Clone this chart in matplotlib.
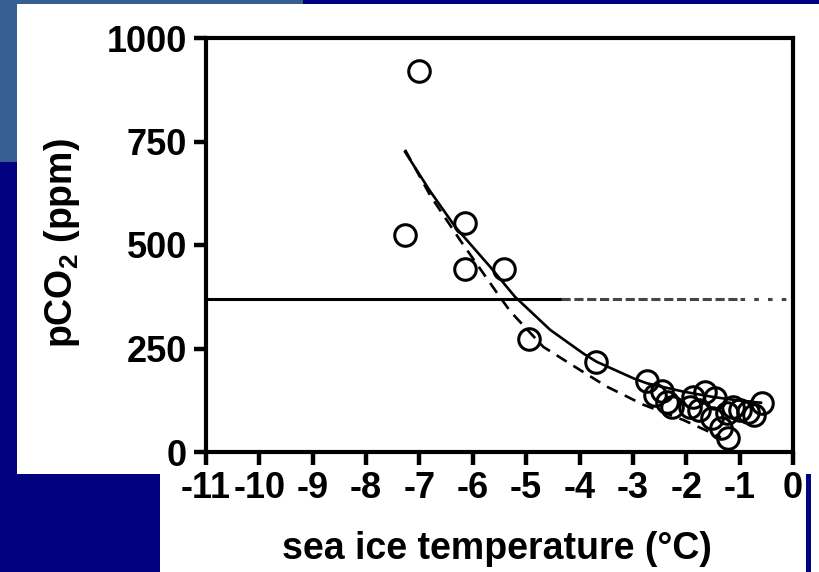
import matplotlib
matplotlib.use('Agg')
import matplotlib.pyplot as plt
from matplotlib.patches import Rectangle

temp = [-7.0, -7.27, -6.15, -6.15, -5.42, -4.94, -3.69, -2.74, -2.59, -2.46,
        -2.37, -2.27, -1.93, -1.87, -1.77, -1.65, -1.52, -1.46, -1.34, -1.24,
        -1.21, -1.12, -0.99, -0.84, -0.74, -0.59]
pco2 = [920, 524, 552, 441, 441, 272, 218, 172, 138, 148,
        121, 109, 109, 134, 101, 146, 81, 130, 57, 93,
        33, 109, 101, 97, 89, 118]

# fitted curves, points
fit_solid_x = [-7.27, -6.8, -6.33, -5.68, -5.21, -4.55, -3.93, -3.68, -2.99, -2.74, -2.06, -1.5, -1.0, -0.6]
fit_solid_y = [725, 630, 544, 448, 375, 295, 238, 218, 178, 166, 146, 133, 124, 119]
fit_dash_x = [-7.27, -6.8, -6.24, -5.55, -5.30, -4.68, -3.99, -3.49, -2.80, -2.05, -1.49, -1.35]
fit_dash_y = [730, 620, 512, 385, 340, 254, 198, 158, 114, 77, 44, 35]

# atmospheric level line
atm_y = 370
atm_breaks = [-11, -4.35, -1.0, 0]

xticks = list(range(-11, 1))
yticks = [0, 250, 500, 750, 1000]

navy = '#000080'
steel = '#356091'
W, H = 819, 572

plt.rcParams['font.family'] = ['Liberation Sans', 'DejaVu Sans']
plt.rcParams['axes.unicode_minus'] = False

fig = plt.figure(figsize=(W / 100, H / 100), dpi=100, facecolor=navy)


def box(x0, y0, x1, y1, color):
    fig.add_artist(Rectangle((x0 / W, 1 - y1 / H), (x1 - x0) / W, (y1 - y0) / H,
                             transform=fig.transFigure, facecolor=color,
                             edgecolor='none', zorder=-1))


box(0, 0, 303, 4, steel)
box(0, 0, 17, 162, steel)
box(17, 4, W, 474, 'white')
box(160, 474, 806, H, 'white')
box(811, 474, W, H, 'white')

ax = fig.add_axes([206 / W, (H - 452) / H, (793 - 206) / W, (452 - 38) / H])
ax.set_facecolor('white')

ax.plot(atm_breaks[:2], [atm_y, atm_y], color='black', lw=2.2)
ax.plot(atm_breaks[1:3], [atm_y, atm_y], color='#444444', lw=2.2, ls=(0, (3, 1.2)))
ax.plot(atm_breaks[2:], [atm_y, atm_y], color='#444444', lw=2.2, ls=(0, (1.5, 3)))

ax.plot(fit_solid_x, fit_solid_y, color='black', lw=1.9)
ax.plot(fit_dash_x, fit_dash_y, color='black', lw=1.9, ls=(0, (4.5, 3)))

ax.plot(temp, pco2, ls='none', marker='o', ms=15.5, mfc='none', mec='black', mew=2.2)

ax.set_xlim(-11, 0)
ax.set_ylim(0, 1000)
ax.set_xticks(xticks)
ax.set_yticks(yticks)
ax.set_xticklabels([str(t) for t in xticks])

for s in ax.spines.values():
    s.set_linewidth(3)
ax.tick_params(direction='out', length=9, width=3.2, pad=4.5, labelsize=26)
for lab in ax.get_xticklabels() + ax.get_yticklabels():
    lab.set_fontweight('bold')

ax.set_xlabel('sea ice temperature (°C)', fontsize=27, fontweight='bold')
ax.set_ylabel(r'pCO$_\mathregular{2}$ (ppm)', fontsize=27, fontweight='bold')
ax.xaxis.set_label_coords(0.496, -0.192)
ax.yaxis.set_label_coords(-0.212, 0.505)

fig.savefig('out.png', dpi=100, facecolor=navy)
